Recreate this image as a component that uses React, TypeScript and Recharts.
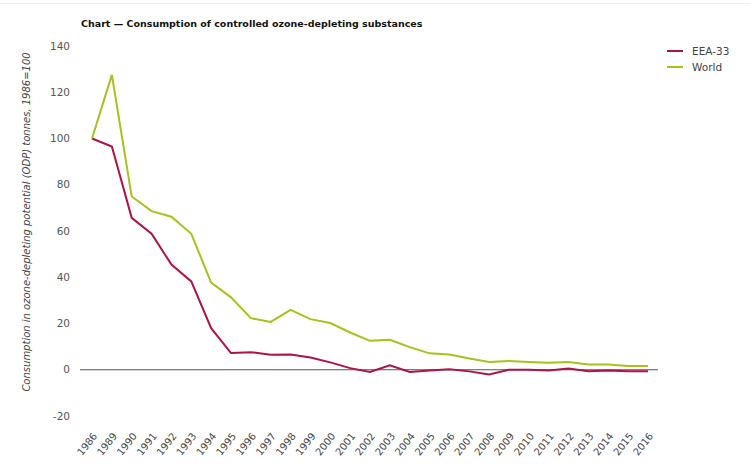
import { Line, LineChart, ReferenceLine, XAxis, YAxis } from "recharts";

// categories and series (index, 1986 = 100)
const years = ["1986", "1989", "1990", "1991", "1992", "1993", "1994", "1995", "1996", "1997", "1998", "1999", "2000", "2001", "2002", "2003", "2004", "2005", "2006", "2007", "2008", "2009", "2010", "2011", "2012", "2013", "2014", "2015", "2016"];
const eea33 = [100, 96.5, 65.7, 58.8, 45.5, 38.2, 18, 7.2, 7.6, 6.5, 6.6, 5.3, 3.2, 0.7, -1, 1.9, -1, -0.3, 0.2, -0.7, -2, 0, 0, -0.3, 0.5, -0.6, -0.3, -0.7, -0.7];
const world = [100, 127.5, 74.9, 68.6, 66.2, 58.8, 37.7, 31.3, 22.3, 20.7, 25.9, 21.9, 20.2, 16.1, 12.5, 13, 9.8, 7.1, 6.6, 4.9, 3.4, 3.8, 3.4, 3.0, 3.4, 2.3, 2.3, 1.6, 1.6];
const yTicks = [-20, 0, 20, 40, 60, 80, 100, 120, 140];

const RED = "#ad1248";
const GREEN = "#a5c21d";
const FONT = "'DejaVu Sans', Verdana, sans-serif";

const data = years.map((year, i) => ({ year, eea: eea33[i], world: world[i] }));
const legendItems = [
  { label: "EEA-33", color: RED },
  { label: "World", color: GREEN },
];

function YearTick(props: any) {
  const { x, y, payload } = props;
  return (
    <text
      x={x + 3}
      y={y + 10}
      transform={`rotate(-52, ${x + 3}, ${y + 10})`}
      textAnchor="end"
      dominantBaseline="central"
      fontSize={10}
      fontFamily={FONT}
      fill="#444"
    >
      {payload.value}
    </text>
  );
}

export default function App() {
  return (
    <div style={{ position: "absolute", left: 0, top: 0, width: 750, height: 472, background: "#fff" }}>
      <div style={{ position: "absolute", left: 0, top: 3, width: 750, height: 1, background: "#eee" }} />
      <div
        style={{
          position: "absolute",
          left: 81,
          top: 18,
          fontFamily: FONT,
          fontWeight: "bold",
          fontSize: 9.5,
          color: "#111",
          whiteSpace: "nowrap",
        }}
      >
        Chart — Consumption of controlled ozone-depleting substances
      </div>
      <div style={{ position: "absolute", left: 667, top: 43, fontFamily: FONT, fontSize: 10.5, color: "#444" }}>
        {legendItems.map((it) => (
          <div key={it.label} style={{ display: "flex", alignItems: "center", height: 16 }}>
            <span style={{ display: "inline-block", width: 16, height: 2, background: it.color, marginRight: 9 }} />
            {it.label}
          </div>
        ))}
      </div>
      <div style={{ position: "absolute", left: 0, top: 0 }}>
        <LineChart width={750} height={472} data={data} margin={{ top: 46, right: 92, left: 0, bottom: 0 }}>
          <XAxis
            dataKey="year"
            interval={0}
            padding={{ left: 12, right: 10 }}
            axisLine={false}
            tickLine={false}
            height={56}
            tick={<YearTick />}
          />
          <YAxis
            domain={[-20, 140]}
            ticks={yTicks}
            width={80}
            axisLine={false}
            tickLine={false}
            tickMargin={4}
            tick={{ fontSize: 10.5, fontFamily: FONT, fill: "#555" }}
            label={() => (
              <text
                x={26}
                y={222}
                transform="rotate(-90, 26, 222)"
                textAnchor="middle"
                dominantBaseline="central"
                fontSize={10}
                fontStyle="italic"
                fontFamily={FONT}
                fill="#444"
              >
                Consumption in ozone-depleting potential (ODP) tonnes, 1986=100
              </text>
            )}
          />
          <ReferenceLine y={0} stroke="#555" strokeWidth={1} />
          <Line dataKey="eea" name="EEA-33" stroke={RED} strokeWidth={2} dot={false} isAnimationActive={false} />
          <Line dataKey="world" name="World" stroke={GREEN} strokeWidth={2} dot={false} isAnimationActive={false} />
        </LineChart>
      </div>
    </div>
  );
}
